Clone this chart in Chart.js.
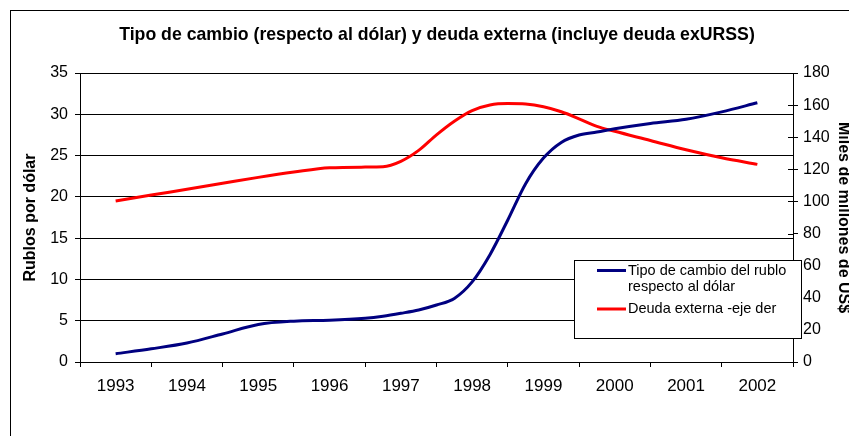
<!DOCTYPE html>
<html>
<head>
<meta charset="utf-8">
<script src="https://cdn.jsdelivr.net/npm/chart.js@4.4.1/dist/chart.umd.min.js"></script>
<style>
  html, body { margin: 0; padding: 0; background: #fff; overflow: hidden; width: 849px; height: 436px; }
  #wrap { position: absolute; left: 0; top: 0; width: 870px; height: 436px; }
</style>
</head>
<body>
<div id="wrap"><canvas id="c" width="870" height="436"></canvas></div>
<script>
// ---- Data ----
const years = [1993, 1994, 1995, 1996, 1997, 1998, 1999, 2000, 2001, 2002];
const periodos = [1993, 1993.5, 1994, 1994.5, 1995, 1995.5, 1996, 1996.5, 1996.75, 1997, 1997.25, 1997.5, 1997.75,
                  1998, 1998.25, 1998.5, 1998.75, 1999, 1999.25, 1999.5, 1999.75, 2000, 2000.5, 2001, 2001.5, 2002];
const tipoCambio = [1.0, 1.6, 2.3, 3.4, 4.55, 4.95, 5.05, 5.3, 5.55, 5.9, 6.3, 6.9, 7.7,
                    9.7, 13.0, 17.2, 21.6, 24.7, 26.6, 27.5, 27.85, 28.25, 28.9, 29.4, 30.3, 31.4];
const deudaExterna = [100.3, 104.0, 107.6, 111.3, 115.0, 118.3, 121.0, 121.4, 121.6, 125.0, 131.8, 141.5, 150.0,
                      156.6, 160.1, 161.0, 160.7, 159.0, 155.9, 151.5, 146.8, 143.7, 138.0, 132.2, 127.2, 123.1];
const leftTicks = [0, 5, 10, 15, 20, 25, 30, 35];
const rightTicks = [0, 20, 40, 60, 80, 100, 120, 140, 160, 180];
const titulo = 'Tipo de cambio (respecto al dólar) y deuda externa (incluye deuda exURSS)';
const tituloIzq = 'Rublos por dólar';
const tituloDer = 'Miles de millones de US$';
const leyendaCambio = ['Tipo de cambio del rublo', 'respecto al dólar'];
const leyendaDeuda = ['Deuda externa -eje der'];

const FONT = '"Liberation Sans", Arial, sans-serif';
const BLUE = '#000080';
const RED = '#FF0000';

const pts = (vals) => periodos.map((p, i) => ({ x: p, y: vals[i] }));

const framePlugin = {
  id: 'frame',
  beforeDraw(chart) {
    const ctx = chart.ctx;
    ctx.save();
    ctx.fillStyle = '#fff';
    ctx.fillRect(0, 0, chart.width, chart.height);
    ctx.strokeStyle = '#000';
    ctx.lineWidth = 1;
    ctx.strokeRect(10.5, 10.5, chart.width + 20, chart.height + 20);
    ctx.restore();
  },
  afterDraw(chart) {
    const ctx = chart.ctx;
    const y1 = chart.scales.y1;
    ctx.save();
    // inner half of the crossing tick marks on the right axis
    ctx.strokeStyle = '#000';
    ctx.lineWidth = 1;
    rightTicks.forEach(v => {
      const py = Math.round(y1.getPixelForValue(v)) + 0.5;
      ctx.beginPath();
      ctx.moveTo(y1.left - 5, py);
      ctx.lineTo(y1.left, py);
      ctx.stroke();
    });
    // legend box
    const bx = 574.5, by = 260.5, bw = 227, bh = 78;
    ctx.fillStyle = '#fff';
    ctx.fillRect(bx, by, bw, bh);
    ctx.strokeRect(bx, by, bw, bh);
    ctx.font = '14.5px ' + FONT;
    ctx.textBaseline = 'middle';
    ctx.fillStyle = '#000';
    const ds = chart.data.datasets;
    const entries = [
      { lines: leyendaCambio, color: ds[0].borderColor, y: 270.5 },
      { lines: leyendaDeuda, color: ds[1].borderColor, y: 309 }
    ];
    entries.forEach(e => {
      ctx.strokeStyle = e.color;
      ctx.lineWidth = 3;
      ctx.beginPath();
      ctx.moveTo(597, e.y);
      ctx.lineTo(626, e.y);
      ctx.stroke();
      e.lines.forEach((t, i) => ctx.fillText(t, 628, e.y + i * 16.7));
    });
    ctx.restore();
  }
};

new Chart(document.getElementById('c'), {
  type: 'line',
  data: {
    datasets: [
      {
        label: leyendaCambio.join(' '),
        data: pts(tipoCambio),
        borderColor: BLUE,
        backgroundColor: BLUE,
        borderWidth: 3,
        pointRadius: 0,
        cubicInterpolationMode: 'monotone',
        yAxisID: 'y'
      },
      {
        label: leyendaDeuda.join(' '),
        data: pts(deudaExterna),
        borderColor: RED,
        backgroundColor: RED,
        borderWidth: 3,
        pointRadius: 0,
        cubicInterpolationMode: 'monotone',
        yAxisID: 'y1'
      }
    ]
  },
  options: {
    responsive: false,
    animation: false,
    events: [],
    layout: { padding: { left: 21, right: 17, top: 10, bottom: 0 } },
    plugins: {
      legend: { display: false },
      tooltip: { enabled: false },
      title: {
        display: true,
        text: titulo,
        color: '#000',
        font: { family: FONT, size: 17.7, weight: 'bold' },
        padding: { top: 14.5, bottom: 27.3 }
      }
    },
    scales: {
      x: {
        type: 'linear',
        min: 1992.5,
        max: 2002.5,
        afterFit: s => { s.height = 74; },
        ticks: {
          stepSize: 0.5,
          autoSkip: false,
          maxRotation: 0,
          color: '#000',
          font: { family: FONT, size: 17 },
          padding: 9,
          callback: v => (years.includes(v) ? String(v) : '')
        },
        grid: {
          drawOnChartArea: false,
          tickLength: 5,
          tickColor: c => (c.tick && Number.isInteger(c.tick.value) ? 'rgba(0,0,0,0)' : '#000')
        },
        border: { display: true, color: '#000', width: 1 }
      },
      y: {
        position: 'left',
        min: 0,
        max: 35,
        afterFit: s => { s.width = 59; },
        afterBuildTicks: s => { s.ticks = leftTicks.map(v => ({ value: v })); },
        ticks: { color: '#000', font: { family: FONT, size: 16 }, padding: 7 },
        grid: { color: '#000', lineWidth: 1, tickLength: 5, tickColor: '#000' },
        border: { display: true, color: '#000', width: 1 },
        title: {
          display: true,
          text: tituloIzq,
          color: '#000',
          font: { family: FONT, size: 16, weight: 'bold' },
          padding: { top: 0, bottom: 0 }
        }
      },
      y1: {
        position: 'right',
        min: 0,
        max: 180,
        afterFit: s => { s.width = 60; },
        afterBuildTicks: s => { s.ticks = rightTicks.map(v => ({ value: v })); },
        ticks: { color: '#000', font: { family: FONT, size: 16 }, padding: 5 },
        grid: { drawOnChartArea: false, tickLength: 5, tickColor: '#000' },
        border: { display: true, color: '#000', width: 1 },
        title: {
          display: true,
          text: tituloDer,
          color: '#000',
          font: { family: FONT, size: 16, weight: 'bold' },
          padding: { top: 0, bottom: 0 }
        }
      }
    }
  },
  plugins: [framePlugin]
});
</script>
</body>
</html>
